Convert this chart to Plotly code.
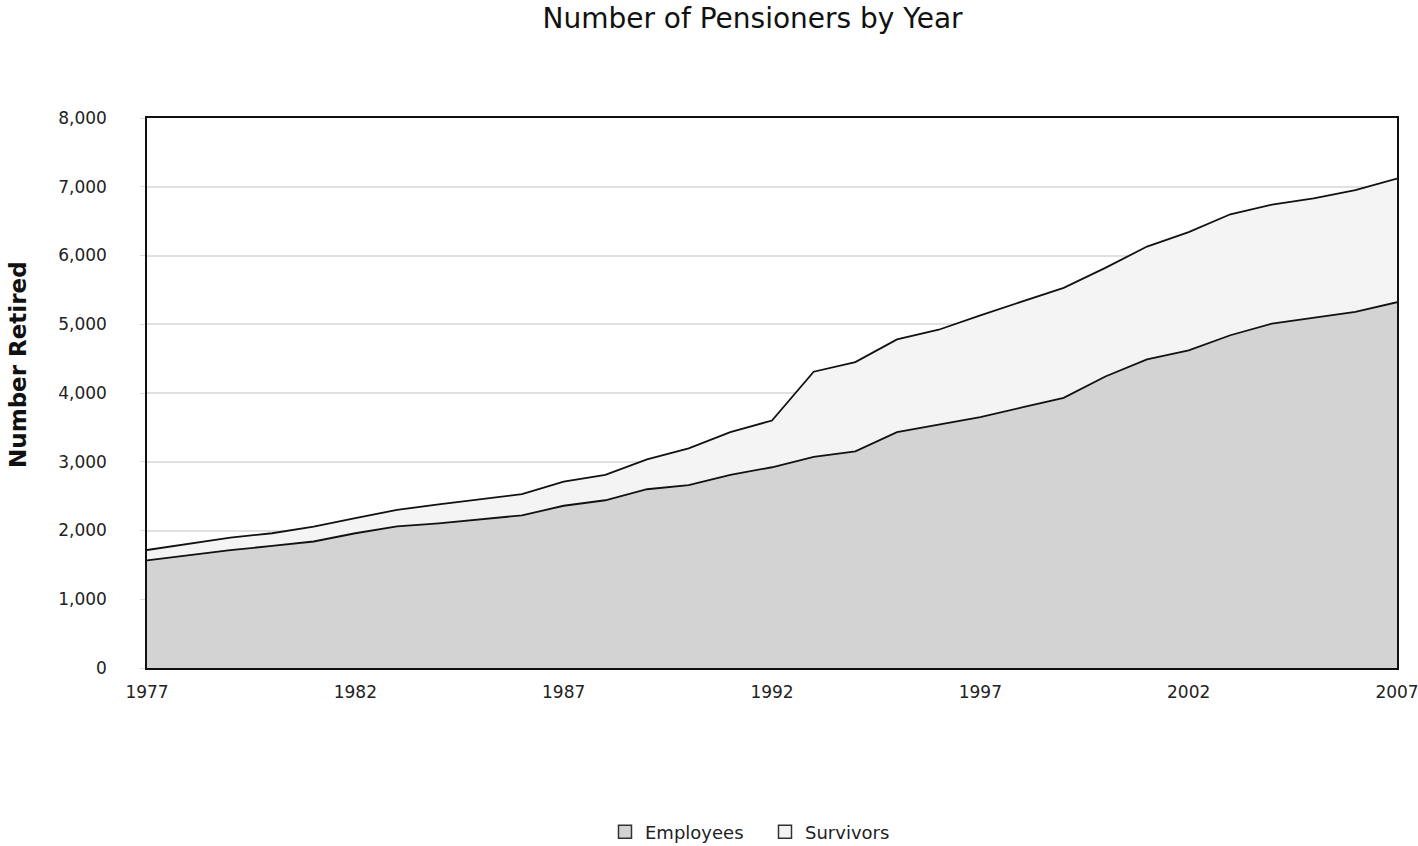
import plotly.graph_objects as go

years = list(range(1977, 2008))

employees = [1565, 1645, 1715, 1775, 1840, 1960, 2060, 2105, 2165, 2220,
             2360, 2440, 2600, 2660, 2810, 2920, 3070, 3150, 3430, 3540,
             3650, 3790, 3930, 4240, 4490, 4620, 4840, 5010, 5090, 5180,
             5320]

survivors = [151, 165, 180, 185, 215, 220, 240, 275, 285, 310,
             350, 370, 435, 535, 620, 680, 1240, 1300, 1350, 1380,
             1480, 1540, 1600, 1580, 1640, 1720, 1760, 1730, 1740, 1770,
             1800]

x_tick_years = [1977, 1982, 1987, 1992, 1997, 2002, 2007]
y_tick_values = [0, 1000, 2000, 3000, 4000, 5000, 6000, 7000, 8000]

series_names = ["Employees", "Survivors"]
series_fills = ["#d3d3d3", "#f4f4f4"]

FONT = "DejaVu Sans, Verdana, sans-serif"

fig = go.Figure()

# stacked areas
for name, values, fill in zip(series_names, [employees, survivors], series_fills):
    fig.add_trace(go.Scatter(
        x=years, y=values, name=name, mode="lines",
        stackgroup="pensioners", fillcolor=fill,
        line=dict(color="#111111", width=1.8),
        showlegend=False,
    ))

# square swatches for the legend
for name, fill in zip(series_names, series_fills):
    fig.add_trace(go.Scatter(
        x=[None], y=[None], name=name, mode="markers",
        marker=dict(symbol="square", size=13, color=fill,
                    line=dict(color="#333333", width=1.5)),
        showlegend=True,
    ))

fig.update_layout(
    width=1418, height=846,
    margin=dict(l=147, r=21, t=118, b=178, autoexpand=False),
    paper_bgcolor="white", plot_bgcolor="white",
    font=dict(family=FONT, size=17, color="#222222"),
    title=dict(text="Number of Pensioners by Year", x=0.5307, xanchor="center",
               y=0.979, yanchor="middle",
               font=dict(family=FONT, size=28, color="#111111")),
    showlegend=True,
    legend=dict(orientation="h", x=0.4944, xanchor="center",
                yref="container", y=0.0165, yanchor="middle",
                font=dict(size=18, color="#222222"),
                itemwidth=30, entrywidth=115, traceorder="normal"),
    hovermode=False,
)

fig.update_xaxes(
    range=[1977, 2007], tickvals=x_tick_years,
    ticktext=[str(v) for v in x_tick_years],
    showgrid=False, zeroline=False, automargin=False,
    showline=True, linecolor="#111111", linewidth=1.5, mirror=True,
    ticks="", ticklabelstandoff=8, ticklabeloverflow="allow",
)
fig.update_yaxes(
    range=[0, 8000], tickvals=y_tick_values, tickformat=",",
    showgrid=True, gridcolor="#e0e0e0", gridwidth=1.5, zeroline=False,
    automargin=False,
    showline=True, linecolor="#111111", linewidth=1.5, mirror=True,
    ticks="outside", ticklen=5, tickcolor="#dddddd",
    ticklabelstandoff=30,
)

fig.add_annotation(
    text="<b>Number Retired</b>", textangle=-90,
    xref="paper", yref="paper", x=-0.1032, y=0.551,
    xanchor="center", yanchor="middle", showarrow=False,
    font=dict(family=FONT, size=23, color="#111111"),
)

fig.write_html("out.html")
